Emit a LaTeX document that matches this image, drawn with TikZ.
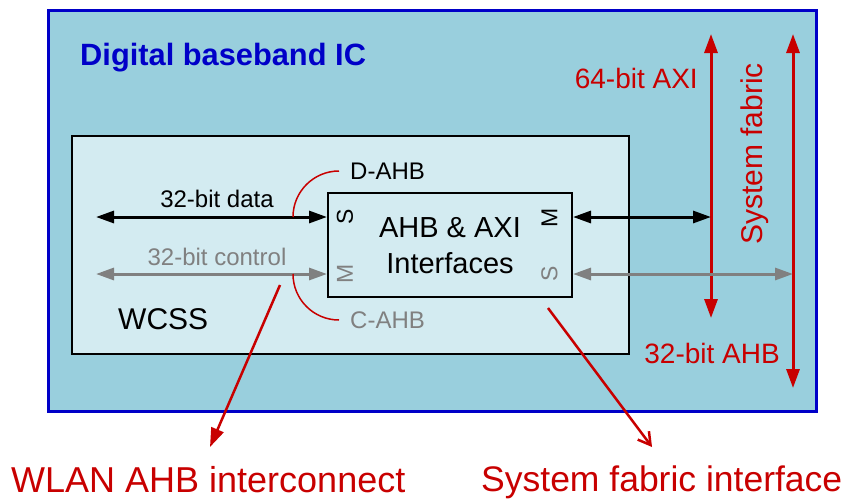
\documentclass[tikz,border=0pt]{standalone}
\usepackage{fontspec}
\setmainfont{Liberation Sans}
\usetikzlibrary{arrows.meta}
\definecolor{icfill}{RGB}{153,207,221}
\definecolor{wfill}{RGB}{211,235,241}
\definecolor{icblue}{RGB}{0,0,200}
\definecolor{dred}{RGB}{200,0,0}
\definecolor{mgray}{RGB}{128,128,128}
\newcommand{\fs}[1]{\fontsize{#1}{#1}\selectfont}
\tikzset{
  box/.style={draw, inner sep=0pt, anchor=center},
  lbl/.style={inner sep=0pt, font=\fs{24}},
  port/.style={inner sep=0pt, rotate=90, font=\fs{23}},
  blkarrow/.style={line width=3pt, black, {Triangle[length=18pt,width=12pt]}-{Triangle[length=18pt,width=12pt]}},
  grayarrow/.style={line width=3pt, mgray, {Triangle[length=18pt,width=12pt]}-{Triangle[length=18pt,width=12pt]}},
  redbus/.style={line width=3pt, dred, {Triangle[length=19pt,width=13pt]}-{Triangle[length=19pt,width=13pt]}},
  redarc/.style={line width=1.5pt, dred},
}
\begin{document}
\begin{tikzpicture}[x=1pt,y=-1pt]
\useasboundingbox (0,0) rectangle (848,499);
% boxes
\node[box, draw=icblue, line width=3pt, fill=icfill, minimum width=768pt, minimum height=401pt] (ic) at (432,210.5) {};
\node[box, draw=black, line width=2pt, fill=wfill, minimum width=557pt, minimum height=218pt] (wcss) at (350.5,245) {};
\node[box, draw=black, line width=2pt, fill=wfill, minimum width=244pt, minimum height=104pt] (ahb) at (450,245) {};
% texts
\node[inner sep=0pt, anchor=base west, font=\fs{30.8}\bfseries, text=icblue] (title) at (80,65) {Digital baseband IC};
\node[inner sep=0pt, anchor=base west, font=\fs{30}] (wl) at (118,329) {WCSS};
\node[inner sep=0pt, anchor=base, font=\fs{29}] (ah1) at (450,237) {AHB \& AXI};
\node[inner sep=0pt, anchor=base, font=\fs{29}] (ah2) at (450,273) {Interfaces};
\node[port] (ls) at (345,217) {S};
\node[port, text=mgray] (lm) at (345,273.5) {M};
\node[port] (rm) at (549.5,217.5) {M};
\node[port, text=mgray] (rs) at (549.5,273.5) {S};
% fabric buses
\coordinate (axt) at (711,34);
\coordinate (axb) at (711,318);
\coordinate (hbt) at (793,34);
\coordinate (hbb) at (793,388);
\draw[redbus] (axt) -- (axb);
\draw[redbus] (hbt) -- (hbb);
\node[inner sep=0pt, anchor=base east, font=\fs{28}, text=dred] (axl) at (698,88) {64-bit AXI};
\node[inner sep=0pt, anchor=base east, font=\fs{28}, text=dred] (hbl) at (780,363) {32-bit AHB};
\node[inner sep=0pt, anchor=base west, rotate=90, font=\fs{30}, text=dred] (sf) at (762,245) {System fabric};
% local buses
\coordinate (dl) at (96,217);
\coordinate (cl) at (96,274);
\draw[blkarrow] (dl) -- (dl -| ahb.west);
\draw[grayarrow] (cl) -- (cl -| ahb.west);
\draw[blkarrow] (ahb.east |- dl) -- (dl -| axt);
\draw[grayarrow] (ahb.east |- cl) -- (cl -| hbt);
\node[lbl, anchor=base] (dt) at (217,207) {32-bit data};
\node[lbl, anchor=base, text=mgray] (ct) at (217,265) {32-bit control};
% D-AHB / C-AHB markers
\node[lbl, anchor=base west] (dahb) at (350,179) {D-AHB};
\node[lbl, anchor=base west, text=mgray] (cahb) at (350,328) {C-AHB};
\coordinate (da0) at (293,217);
\coordinate (ca0) at (293,274);
\draw[redarc] (da0) arc[start angle=180, end angle=90, radius=46pt] coordinate (da1);
\draw[redarc] (ca0) arc[start angle=180, end angle=270, radius=46pt] coordinate (ca1);
% callouts
\coordinate (p1) at (280,285);
\coordinate (p2) at (548,308);
\node[inner sep=0pt, anchor=base west, font=\fs{36}, text=dred] (wlan) at (11,492) {WLAN AHB interconnect};
\node[inner sep=0pt, anchor=base west, font=\fs{35.5}, text=dred] (sfi) at (481,491) {System fabric interface};
\coordinate (q1) at (210,447);
\coordinate (q2) at (652,447);
\draw[line width=2.5pt, dred, -{Triangle[length=19pt,width=13pt]}] (p1) -- (q1);
\draw[line width=2.5pt, dred, -{Straight Barb[length=12pt,width=14pt]}] (p2) -- (q2);
\end{tikzpicture}
\end{document}
